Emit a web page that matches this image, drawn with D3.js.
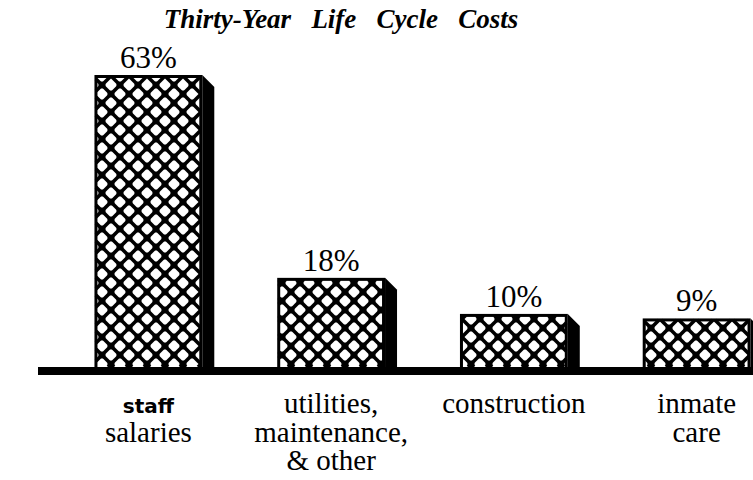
<!DOCTYPE html>
<html>
<head>
<meta charset="utf-8">
<script src="https://cdn.jsdelivr.net/npm/d3@7"></script>
<style>
  body { margin: 0; background: #fff; }
  svg { display: block; }
</style>
</head>
<body>
<svg id="chart" width="753" height="480"></svg>
<script>
// Share of thirty-year life cycle costs by category
const categories = ["staff salaries", "utilities, maintenance, & other", "construction", "inmate care"];
const shares = [63, 18, 10, 9];
const valueLabels = ["63%", "18%", "10%", "9%"];
// Category captions, one entry per line; the first line of the staff caption is set in a sans face
const captionLines = [
  [{ t: "staff", sans: true }, { t: "salaries" }],
  [{ t: "utilities," }, { t: "maintenance," }, { t: "& other" }],
  [{ t: "construction" }],
  [{ t: "inmate" }, { t: "care" }]
];
const titleWords = ["Thirty-Year", "Life", "Cycle", "Costs"];

const W = 753, H = 480;
const svg = d3.select("#chart");
const bookFace = "Liberation Serif";

const x = d3.scaleBand().domain(categories).range([57, 788]).paddingInner(0.41).paddingOuter(0.205);
const y = d3.scaleLinear().domain([0, 63]).range([359, 75]);
const baseTop = 367, baseBottom = 375;
const depth = 12;
const cell = 18;

// Title, words set apart with wide gaps
svg.append("text")
  .attr("x", 341).attr("y", 28)
  .attr("text-anchor", "middle")
  .attr("font-family", bookFace)
  .attr("font-style", "italic").attr("font-weight", "bold")
  .attr("font-size", 27)
  .text(titleWords.join("\u00A0\u00A0\u00A0"));

// Crosshatch segments for a box, clipped to its edges
function hatchSegments(x0, y0, x1, y1) {
  const segs = [];
  const mod = (a, n) => ((a % n) + n) % n;
  // lines x - y = c
  for (let c = (x0 - y1) - mod((x0 - y1) - (-1), cell); c <= x1 - y0; c += cell) {
    const a = Math.max(x0, y0 + c), b = Math.min(x1, y1 + c);
    if (b > a) segs.push([a, a - c, b, b - c]);
  }
  // lines x + y = c
  for (let c = (x0 + y0) - mod((x0 + y0) - 7, cell); c <= x1 + y1; c += cell) {
    const a = Math.max(x0, c - y1), b = Math.min(x1, c - y0);
    if (b > a) segs.push([a, c - a, b, c - b]);
  }
  return segs;
}
function hatchKnots(x0, y0, x1, y1) {
  const pts = [];
  const half = cell / 2;
  const i0 = Math.floor((x0 - 3) / half), i1 = Math.ceil((x1 - 3) / half);
  const j0 = Math.floor((y0 - 4) / half), j1 = Math.ceil((y1 - 4) / half);
  for (let i = i0; i <= i1; i++) for (let j = j0; j <= j1; j++) {
    if (((i + j) % 2 + 2) % 2 !== 0) continue;
    const px = 3 + i * half, py = 4 + j * half;
    if (px > x0 + 2 && px < x1 - 2 && py > y0 + 2 && py < y1 - 2) pts.push([px, py]);
  }
  return pts;
}

const bars = svg.append("g").selectAll("g")
  .data(categories)
  .join("g");

// Drop shadow on the right side of each bar
bars.append("path")
  .attr("fill", "#000")
  .attr("d", (d, i) => {
    const r = x(d) + x.bandwidth(), t = y(shares[i]);
    return `M${r},${t} L${r + depth},${t + depth} L${r + depth},${baseTop} L${r},${baseTop} Z`;
  });

// White bar body
bars.append("rect")
  .attr("x", d => x(d) + 1.5)
  .attr("y", (d, i) => y(shares[i]) + 1.5)
  .attr("width", x.bandwidth() - 3)
  .attr("height", (d, i) => baseTop - y(shares[i]))
  .attr("fill", "#fff");

// Crosshatch inside each bar
bars.each(function (d, i) {
  const g = d3.select(this);
  const x0 = x(d) + 1.5, x1 = x(d) + x.bandwidth() - 1.5;
  const y0 = y(shares[i]) + 1.5, y1 = baseTop;
  g.append("g").selectAll("line")
    .data(hatchSegments(x0, y0, x1, y1))
    .join("line")
    .attr("x1", s => s[0]).attr("y1", s => s[1])
    .attr("x2", s => s[2]).attr("y2", s => s[3])
    .attr("stroke", "#000").attr("stroke-width", 3.6);
  g.append("g").selectAll("circle")
    .data(hatchKnots(x0, y0, x1, y1))
    .join("circle")
    .attr("cx", p => p[0]).attr("cy", p => p[1])
    .attr("r", 3.6).attr("fill", "#000");
});

// Bar outline
bars.append("rect")
  .attr("x", d => x(d) + 1.5)
  .attr("y", (d, i) => y(shares[i]) + 1.5)
  .attr("width", x.bandwidth() - 3)
  .attr("height", (d, i) => baseTop - y(shares[i]))
  .attr("fill", "none")
  .attr("stroke", "#000")
  .attr("stroke-width", 3);

// Value labels
bars.append("text")
  .attr("x", d => x(d) + x.bandwidth() / 2)
  .attr("y", (d, i) => y(shares[i]) - 7)
  .attr("text-anchor", "middle")
  .attr("font-family", bookFace)
  .attr("font-size", 31)
  .text((d, i) => valueLabels[i]);

// Heavy baseline
svg.append("rect")
  .attr("x", 38).attr("y", baseTop)
  .attr("width", W - 38).attr("height", baseBottom - baseTop)
  .attr("fill", "#000");

// Category captions
const caps = svg.append("g").selectAll("g")
  .data(categories)
  .join("g")
  .attr("transform", d => `translate(${x(d) + x.bandwidth() / 2},0)`);

caps.each(function (d, i) {
  const g = d3.select(this);
  captionLines[i].forEach((ln, j) => {
    const t = g.append("text")
      .attr("x", 0)
      .attr("y", 413 + j * 28.5)
      .attr("text-anchor", "middle")
      .text(ln.t);
    if (ln.sans) {
      t.attr("font-family", "DejaVu Sans")
        .attr("font-weight", "bold").attr("font-size", 20);
    } else {
      t.attr("font-family", bookFace).attr("font-size", 29);
    }
  });
});
</script>
</body>
</html>
